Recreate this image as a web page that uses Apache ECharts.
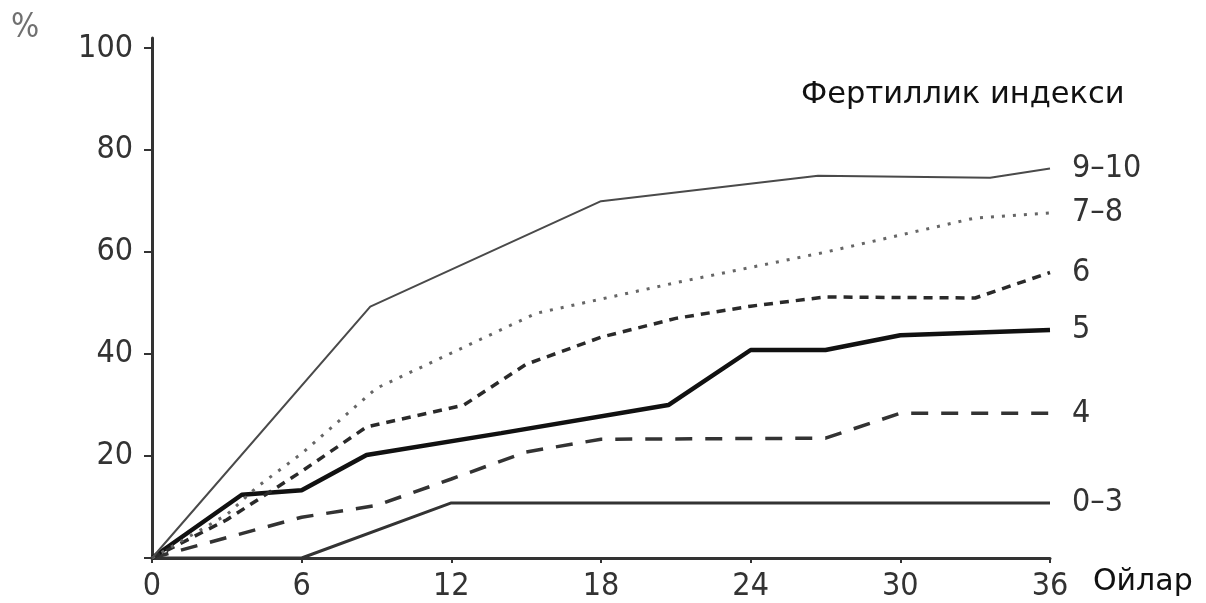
<!DOCTYPE html>
<html><head><meta charset="utf-8">
<script src="https://cdn.jsdelivr.net/npm/echarts@6/dist/echarts.min.js"></script>
<style>html,body{margin:0;padding:0;background:#fff}#c{width:1206px;height:603px}</style>
</head><body><div id="c"></div>
<script>
// ---- data ----
const seriesNames = ['9–10', '7–8', '6', '5', '4', '0–3'];
const s910 = [[0,0],[8.75,49.3],[18,70],[26.7,75],[33.6,74.6],[36,76.4]];
const s78  = [[0,0],[3,8.5],[4.2,13.9],[6,20.5],[9,33.3],[12,40.2],[15.4,48],[21,54],[27,60],[33,66.7],[36,67.7]];
const s6   = [[0,0],[3,7.5],[6,17],[8.6,25.7],[12.5,30],[15,38],[18,43.3],[21,47],[24,49.4],[27,51.2],[33,51],[36,56]];
const s5   = [[0,0],[3.6,12.4],[6,13.3],[8.6,20.2],[14,24.5],[20.7,30],[24,40.8],[27,40.8],[30,43.7],[36,44.7]];
const s4   = [[0,0],[6,8],[9,10.3],[12,15.5],[15,20.8],[18,23.3],[27,23.5],[30,28.4],[36,28.4]];
const s03  = [[0,0],[6,0],[12,10.8],[36,10.8]];
const xTicks = [0, 6, 12, 18, 24, 30, 36];
const yTickLabels = [20, 40, 60, 80, 100];
const yTicks = [0, 20, 40, 60, 80, 100];
const xAxisName = 'Ойлар';
const yAxisName = '%';
const legendTitle = 'Фертиллик индекси';

const narrow = "'DejaVu Sans Condensed','Liberation Sans',sans-serif";
const sans = "'DejaVu Sans','Open Sans',sans-serif";

const styles = [
  {color:'#4a4a4a', width:2, type:'solid'},
  {color:'#666666', width:3, type:[3,8]},
  {color:'#2a2a2a', width:3.5, type:[9,7]},
  {color:'#111111', width:4.5, type:'solid'},
  {color:'#333333', width:3.5, type:[17,13]},
  {color:'#333333', width:3, type:'solid'}
];
const datas = [s910, s78, s6, s5, s4, s03];

const chart = echarts.init(document.getElementById('c'), null, {renderer:'canvas'});
chart.setOption({
  animation: false,
  backgroundColor: '#fff',
  grid: {left:152, right:156, top:38, bottom:45, containLabel:false},
  title: {
    text: legendTitle, left: 796, top: 75,
    textStyle: {fontFamily: sans, fontSize: 30.5, fontWeight: 'normal', color: '#111'}
  },
  graphic: [
    {type:'text', left: 11, top: 12, style:{text: yAxisName, font: "33px " + narrow, fill:'#707070'}},
    {type:'text', left: 1093, top: 567, style:{text: xAxisName, font: "30px " + sans, fill:'#111'}}
  ],
  xAxis: {
    type: 'value', min: 0, max: 36, interval: 6,
    axisLine: {show:true, lineStyle:{color:'#333', width:3}},
    axisTick: {show:true, length:5, lineStyle:{color:'#333', width:2}},
    splitLine: {show:false},
    axisLabel: {customValues: xTicks, margin: 13, fontFamily: narrow, fontSize: 32, color: '#333'}
  },
  yAxis: {
    type: 'value', min: 0, max: 102,
    axisLine: {show:true, lineStyle:{color:'#333', width:3}},
    axisTick: {show:true, customValues: yTicks, length:8, lineStyle:{color:'#333', width:2}},
    splitLine: {show:false},
    axisLabel: {customValues: yTickLabels, margin: 19, fontFamily: narrow, fontSize: 32, color: '#333'}
  },
  series: datas.map((d, i) => ({
    name: seriesNames[i],
    type: 'line',
    data: d,
    symbol: 'none',
    lineStyle: styles[i],
    z: 10 - i,
    endLabel: {
      show: true, formatter: '{a}', distance: 22,
      fontFamily: narrow, fontSize: 32, color: '#333'
    }
  }))
});
</script></body></html>
